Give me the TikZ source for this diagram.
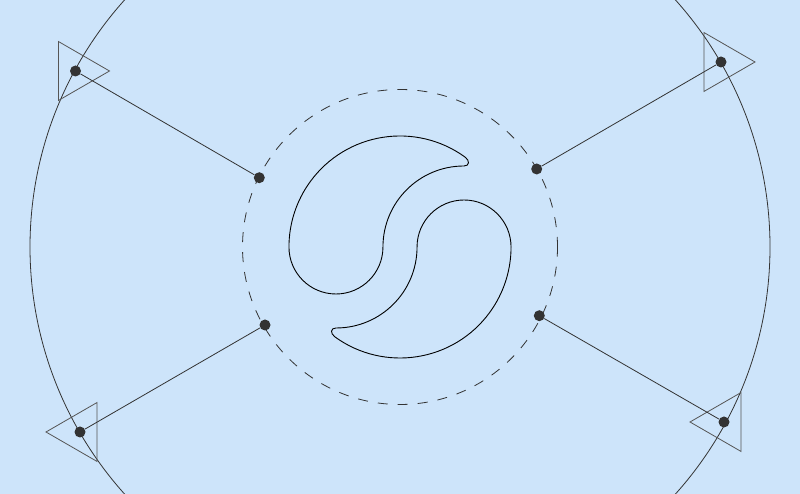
\documentclass[tikz,border=0pt]{standalone}
\definecolor{bg}{RGB}{205,228,250}
\definecolor{ink}{RGB}{51,51,51}
\definecolor{trigray}{RGB}{85,85,85}
\begin{document}
\begin{tikzpicture}[x=1pt,y=1pt,
  thinline/.style={draw=ink,line width=0.8pt},
  dashring/.style={draw=ink,line width=0.8pt,dash pattern=on 10pt off 10pt},
  dot/.style={circle,fill=ink,inner sep=0pt,minimum size=11pt},
  tri/.style={draw=trigray,line width=0.8pt,line join=miter},
  comma/.style={draw=black,line width=0.9pt}]
\useasboundingbox (0,0) rectangle (800,494);
\fill[bg] (0,0) rectangle (800,494);
\clip (0,0) rectangle (800,494);
\coordinate (O) at (400,247);
% outer ring
\draw[thinline] (O) circle[radius=370];
% dashed ring
\draw[dashring] (O) circle[radius=157.5];
% two commas
\newcommand{\commapath}{%
  (464,328) .. controls (469.5,328) and (470,333.3) .. (465.2,336.8)
  arc[start angle=54,end angle=180,radius=111]
  arc[start angle=180,end angle=360,radius=47]
  arc[start angle=180,end angle=90,radius=81] -- cycle}
\draw[comma] \commapath;
\begin{scope}[rotate around={180:(400,247)}]
\draw[comma] \commapath;
\end{scope}
% triangles
\draw[tri,shift={(75.5,423)}] (0:34) -- (120:34) -- (240:34) -- cycle;
\draw[tri,shift={(721,432)}] (0:34) -- (120:34) -- (240:34) -- cycle;
\draw[tri,shift={(80,62)}] (180:34) -- (300:34) -- (60:34) -- cycle;
\draw[tri,shift={(724,72)}] (180:34) -- (300:34) -- (60:34) -- cycle;
% dots
\node[dot] (t1) at (75.5,423) {};
\node[dot] (t2) at (721,432) {};
\node[dot] (t3) at (80,62) {};
\node[dot] (t4) at (724,72) {};
\node[dot] (c1) at (259.3,316.3) {};
\node[dot] (c2) at (536.7,325) {};
\node[dot] (c3) at (265,169) {};
\node[dot] (c4) at (539.3,178.3) {};
% connectors
\draw[thinline] (t1) -- (c1);
\draw[thinline] (t2) -- (c2);
\draw[thinline] (t3) -- (c3);
\draw[thinline] (t4) -- (c4);
\end{tikzpicture}
\end{document}
